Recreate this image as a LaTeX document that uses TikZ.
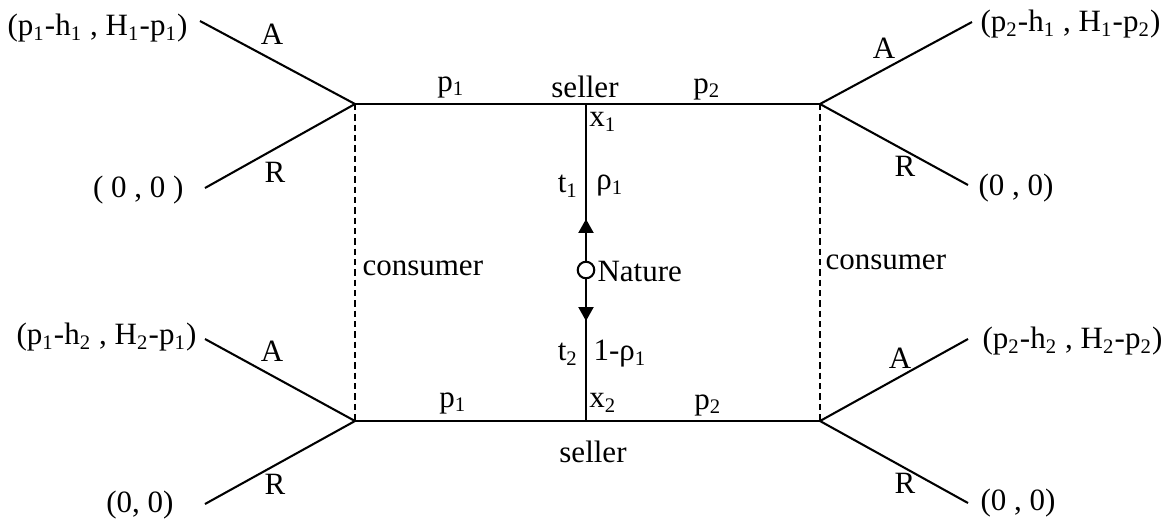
\documentclass[tikz,border=0pt]{standalone}
\usepackage{fontspec}
\setmainfont{Liberation Serif}
\usetikzlibrary{arrows.meta}
\newcommand{\lo}[1]{\textsubscript{#1}}
\tikzset{
  branch/.style={line width=0.8pt},
  infoset/.style={line width=0.6pt,dash pattern=on 2.4pt off 1.6pt},
  lbl/.style={inner sep=0pt},
  chance/.style={circle,draw,line width=0.8pt,fill=white,inner sep=0pt,minimum size=6.4pt},
  tip/.style={-{Triangle[length=5.4pt,width=5.8pt]}}
}

\begin{document}
\begin{tikzpicture}[x=0.387pt,y=-0.387pt,font=\fontsize{12}{14}\selectfont]
\useasboundingbox (0,0) rectangle (1169,522);
% decision points
\coordinate (top1) at (355,104);
\coordinate (top2) at (820,104);
\coordinate (bot1) at (355,421);
\coordinate (bot2) at (820,421);
\coordinate (x1) at (586,104);
\coordinate (x2) at (586,421);
\coordinate (up) at (586,219);
\coordinate (down) at (586,321);
% branch ends
\coordinate (e1) at (200,21);
\coordinate (e2) at (205,188);
\coordinate (e3) at (205,339);
\coordinate (e4) at (205,504);
\coordinate (e5) at (972,22);
\coordinate (e6) at (968,185);
\coordinate (e7) at (968,339);
\coordinate (e8) at (968,503);

\foreach \n/\a/\r in {top1/e1/e2,bot1/e3/e4,top2/e5/e6,bot2/e7/e8}
  \draw[branch] (\a) -- (\n) -- (\r);
\draw[branch] (top1) -- (top2);
\draw[branch] (bot1) -- (bot2);
\draw[infoset] (top1) -- (bot1);
\draw[infoset] (top2) -- (bot2);

\draw[branch] (x1) -- (x2);
\node[chance] (nature) at (586,270) {};
\draw[branch,tip] (nature) -- (up);
\draw[branch,tip] (nature) -- (down);
\node[lbl,anchor=west] (naturelbl) at (597,271) {Nature};

% payoffs
\node[lbl,anchor=east] (pay1) at (188,28) {(p\lo{1}-h\lo{1} , H\lo{1}-p\lo{1})};
\node[lbl,anchor=east] (pay2) at (184,190) {( 0 , 0 )};
\node[lbl,anchor=east] (pay3) at (197,337) {(p\lo{1}-h\lo{2} , H\lo{2}-p\lo{1})};
\node[lbl,anchor=east] (pay4) at (174,505) {(0, 0)};
\node[lbl,anchor=west] (pay5) at (980,24) {(p\lo{2}-h\lo{1} , H\lo{1}-p\lo{2})};
\node[lbl,anchor=west] (pay6) at (978,188) {(0 , 0)};
\node[lbl,anchor=west] (pay7) at (982,341) {(p\lo{2}-h\lo{2} , H\lo{2}-p\lo{2})};
\node[lbl,anchor=west] (pay8) at (980,503) {(0 , 0)};

% actions
\node[lbl] (acc1) at (272,34) {A};
\node[lbl] (rej1) at (275,172) {R};
\node[lbl] (acc2) at (272,351) {A};
\node[lbl] (rej2) at (275,484) {R};
\node[lbl] (acc3) at (884,48) {A};
\node[lbl] (rej3) at (905,166) {R};
\node[lbl] (acc4) at (900,358) {A};
\node[lbl] (rej4) at (905,483) {R};

% prices and players
\node[lbl] (pr1) at (451,87) {p\lo{1}};
\node[lbl] (sel1) at (585,87) {seller};
\node[lbl] (pr2) at (707,89) {p\lo{2}};
\node[lbl] (pr3) at (453,403) {p\lo{1}};
\node[lbl] (pr4) at (708,405) {p\lo{2}};
\node[lbl] (sel2) at (593,452) {seller};
\node[lbl] (typ1) at (603,122) {x\lo{1}};
\node[lbl] (typ2) at (603,403) {x\lo{2}};
\node[lbl] (t1) at (568,186) {t\lo{1}};
\node[lbl] (rho1) at (610,186) {ρ\lo{1}};
\node[lbl] (t2) at (568,354) {t\lo{2}};
\node[lbl] (rho2) at (620,354) {1-ρ\lo{1}};
\node[lbl,anchor=west] (con1) at (362,268) {consumer};
\node[lbl,anchor=west] (con2) at (825,262) {consumer};
\end{tikzpicture}
\end{document}
